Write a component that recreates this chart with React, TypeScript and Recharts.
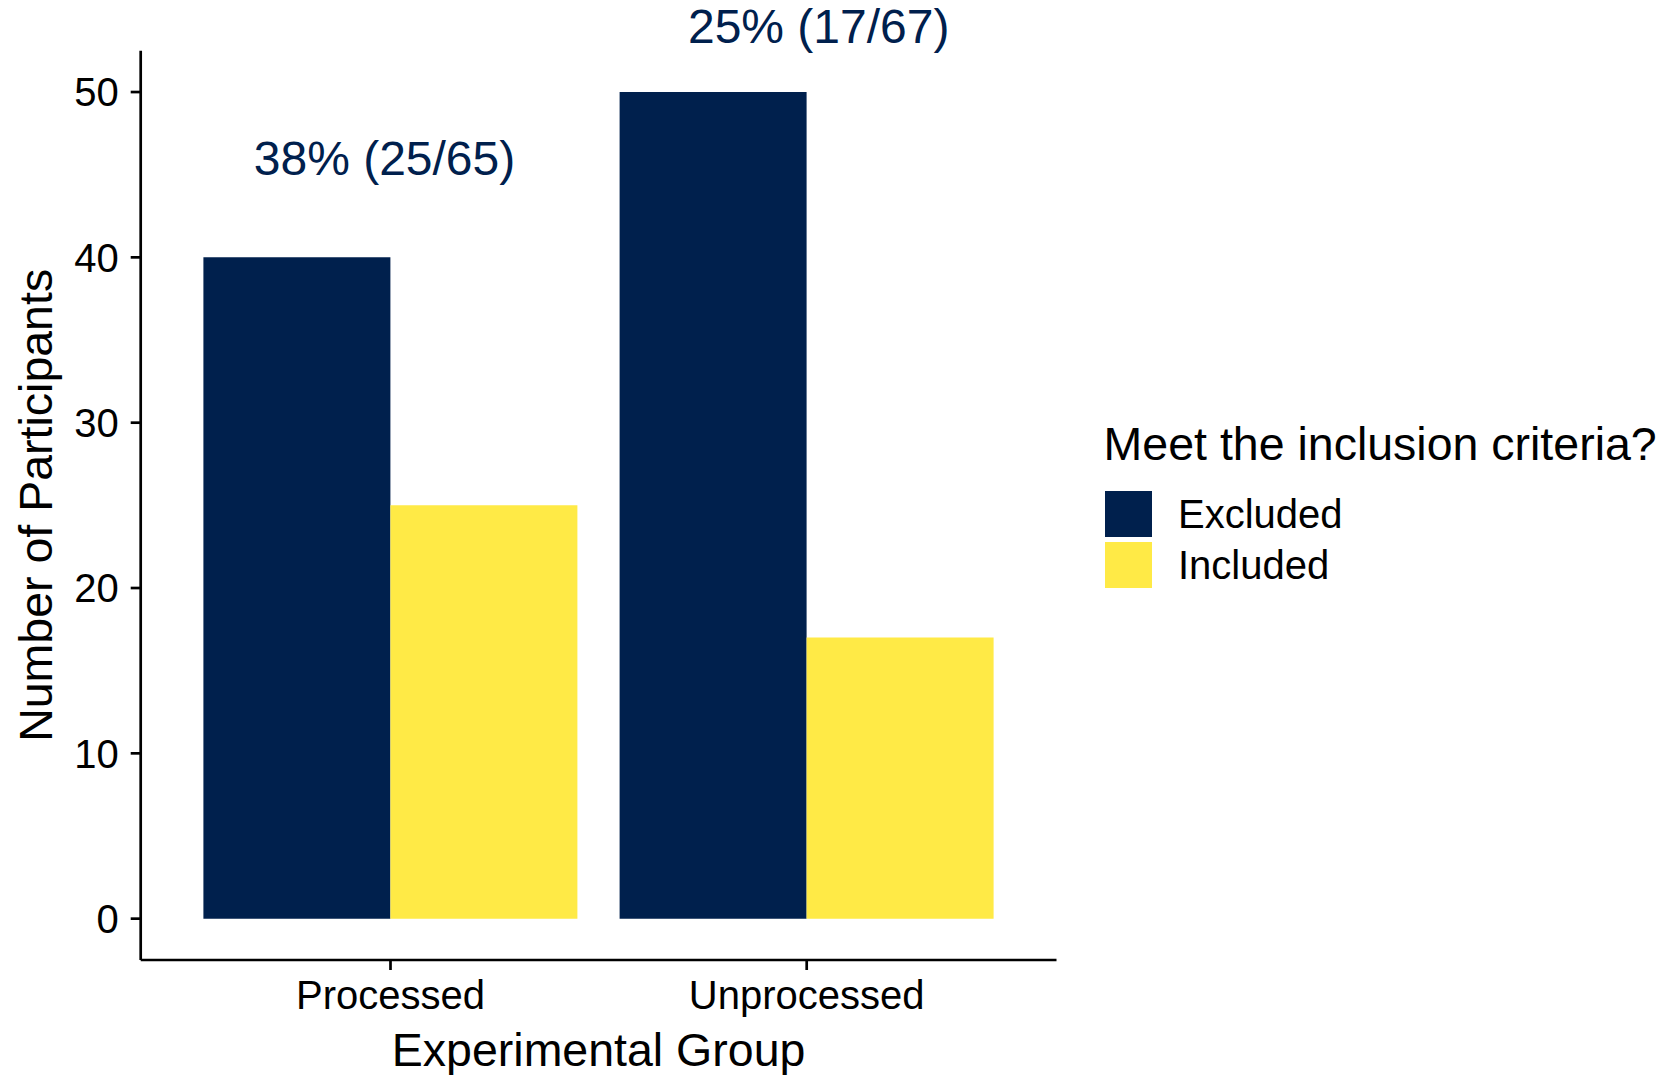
import { Bar, BarChart, ReferenceDot, XAxis, YAxis } from "recharts";

const NAVY = "#00204D";
const YELLOW = "#FFEA46";
const FONT = "'Liberation Sans', Arial, Helvetica, sans-serif";

// data
const groups = ["Processed", "Unprocessed"];
const excluded = [40, 50];
const included = [25, 17];
const seriesNames = ["Excluded", "Included"];
const seriesColors = [NAVY, YELLOW];
const labelTexts = ["38% (25/65)", "25% (17/67)"];
const labelY = [46, 54];
const labelDx = [-6, 12];
const yTicks = [0, 10, 20, 30, 40, 50];

const data = groups.map((g, i) => ({ group: g, Excluded: excluded[i], Included: included[i] }));

function YTitle(props: any) {
  const vb = props.viewBox;
  const cy = vb.y + vb.height / 2;
  return (
    <text x={52} y={cy} transform={`rotate(-90 52 ${cy})`} textAnchor="middle" fontSize={46.5} fill="#000" fontFamily={FONT}>
      Number of Participants
    </text>
  );
}

function XTitle(props: any) {
  const vb = props.viewBox;
  return (
    <text x={vb.x + vb.width / 2} y={vb.y + 106} textAnchor="middle" fontSize={46.5} fill="#000" fontFamily={FONT}>
      Experimental Group
    </text>
  );
}

export default function App() {
  return (
    <div style={{ position: "absolute", left: 0, top: 0, width: 1672, height: 1075, background: "#fff", fontFamily: FONT }}>
      <BarChart
        width={1672}
        height={1075}
        data={data}
        margin={{ top: 50.7, right: 615.5, bottom: 0, left: 0 }}
        barCategoryGap={21}
        barGap={0}
        style={{ fontFamily: FONT }}
      >
        <XAxis
          dataKey="group"
          height={115}
          padding={{ left: 41.7, right: 41.7 }}
          axisLine={{ stroke: "#000", strokeWidth: 2.7 }}
          tickLine={{ stroke: "#000", strokeWidth: 2.7 }}
          tickSize={10}
          tickMargin={11}
          tick={{ fill: "#000", fontSize: 40 }}
          label={<XTitle />}
        />
        <YAxis
          width={140.7}
          domain={[-2.5, 52.5]}
          ticks={yTicks}
          allowDataOverflow
          axisLine={{ stroke: "#000", strokeWidth: 2.7 }}
          tickLine={{ stroke: "#000", strokeWidth: 2.7 }}
          tickSize={10}
          tickMargin={12}
          tick={{ fill: "#000", fontSize: 40 }}
          label={<YTitle />}
        />
        {seriesNames.map((name, i) => (
          <Bar key={name} dataKey={name} fill={seriesColors[i]} isAnimationActive={false} />
        ))}
        {groups.map((g, i) => (
          <ReferenceDot
            key={g}
            x={g}
            y={labelY[i]}
            r={0}
            ifOverflow="visible"
            shape={(p: any) => (
              <text x={p.cx + labelDx[i]} y={p.cy + 17.2} textAnchor="middle" fontSize={48} fill={NAVY} fontFamily={FONT}>
                {labelTexts[i]}
              </text>
            )}
          />
        ))}
      </BarChart>
      <div style={{ position: "absolute", left: 1103.6, top: 443.6, transform: "translateY(-50%)", fontSize: 46.5, lineHeight: 1, whiteSpace: "nowrap", color: "#000" }}>
        Meet the inclusion criteria?
      </div>
      {seriesNames.map((name, i) => (
        <div key={name} style={{ position: "absolute", left: 1105, top: 491 + i * 51.3, height: 46, display: "flex", alignItems: "center" }}>
          <div style={{ width: 47, height: 46, background: seriesColors[i] }} />
          <span style={{ marginLeft: 26, fontSize: 40, lineHeight: 1, color: "#000", whiteSpace: "nowrap" }}>{name}</span>
        </div>
      ))}
    </div>
  );
}
